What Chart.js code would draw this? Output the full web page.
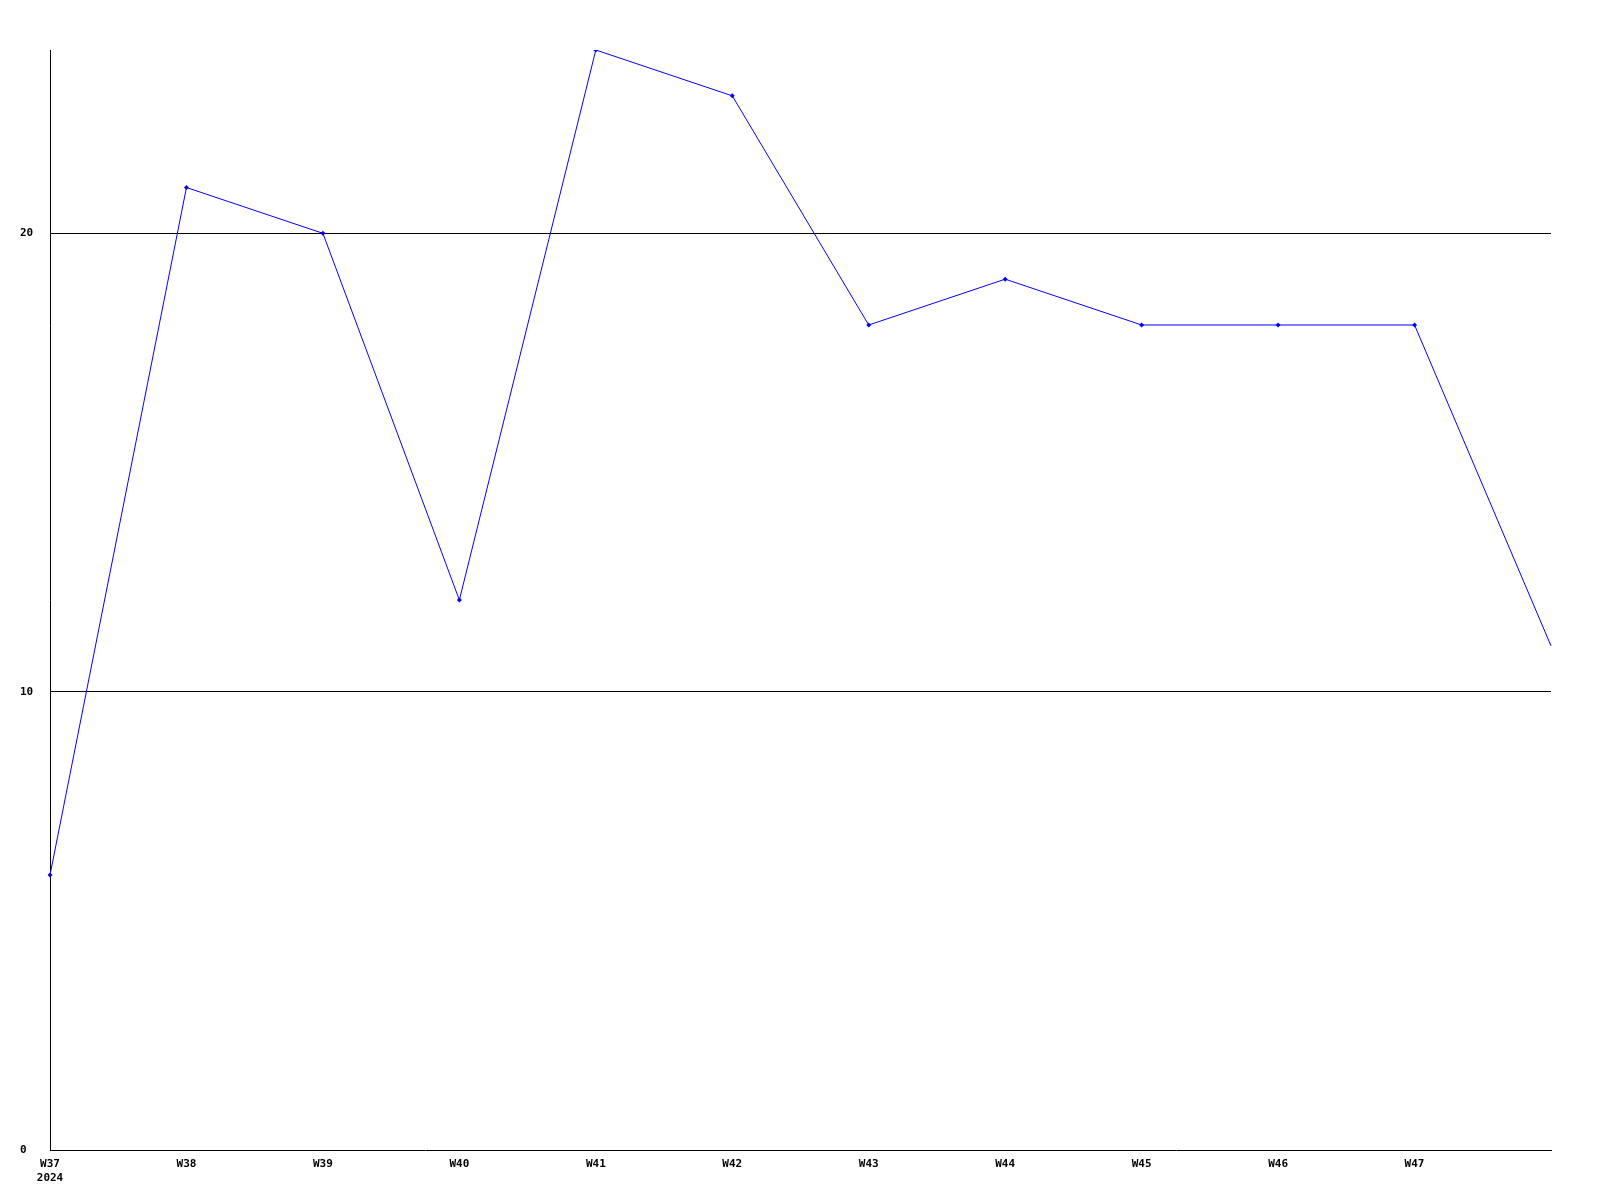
<!DOCTYPE html>
<html>
<head>
<meta charset="utf-8">
<script src="https://cdn.jsdelivr.net/npm/chart.js@4/dist/chart.umd.min.js"></script>
<style>
  html, body { margin: 0; padding: 0; background: #ffffff; }
  canvas { display: block; }
</style>
</head>
<body>
<canvas id="weekChart" width="1600" height="1200"></canvas>
<script>
const weeks = ['W37', 'W38', 'W39', 'W40', 'W41', 'W42', 'W43', 'W44', 'W45', 'W46', 'W47', 'W48'];
const yearLabel = '2024';
const counts = [6, 21, 20, 12, 24, 23, 18, 19, 18, 18, 18, 11];
const yTicks = [0, 10, 20];
const yMax = 24;

const tickFont = { family: 'DejaVu Sans Mono', size: 11, weight: 'bold' };

new Chart(document.getElementById('weekChart').getContext('2d'), {
    type: 'line',
    data: {
        labels: weeks,
        datasets: [
            {
                data: counts,
                borderColor: '#0000ff',
                backgroundColor: '#0000ff',
                borderWidth: 1,
                tension: 0,
                pointStyle: 'rectRot',
                // the last week runs off the right edge, no marker there
                pointRadius: function (ctx) { return ctx.dataIndex === counts.length - 1 ? 0 : 2.5; },
                pointBorderWidth: 0,
                pointHoverRadius: 0,
            },
        ],
    },
    options: {
        responsive: false,
        animation: false,
        events: [],
        layout: {
            padding: { left: 20, top: 50, right: 49, bottom: 0 },
        },
        plugins: {
            legend: { display: false },
            tooltip: { enabled: false },
        },
        scales: {
            x: {
                offset: false,
                grid: { display: false, drawTicks: false },
                border: { display: true, color: '#000000', width: 1 },
                ticks: {
                    color: '#000000',
                    font: tickFont,
                    padding: 8,
                    maxRotation: 0,
                    autoSkip: false,
                    callback: function (value, index) {
                        if (index === weeks.length - 1) return '';
                        if (index === 0) return [weeks[index], yearLabel];
                        return weeks[index];
                    },
                },
                afterFit: function (scale) { scale.height = 50; },
            },
            y: {
                min: 0,
                max: yMax,
                grid: {
                    color: function (ctx) { return ctx.tick && ctx.tick.value === 0 ? 'rgba(0,0,0,0)' : '#000000'; },
                    lineWidth: 1,
                    drawTicks: false,
                },
                border: { display: true, color: '#000000', width: 1 },
                ticks: {
                    color: '#000000',
                    font: tickFont,
                    crossAlign: 'far',
                    padding: 0,
                },
                afterBuildTicks: function (scale) {
                    scale.ticks = yTicks.map(function (v) { return { value: v }; });
                },
                afterFit: function (scale) { scale.width = 30; },
            },
        },
    },
});
</script>
</body>
</html>
